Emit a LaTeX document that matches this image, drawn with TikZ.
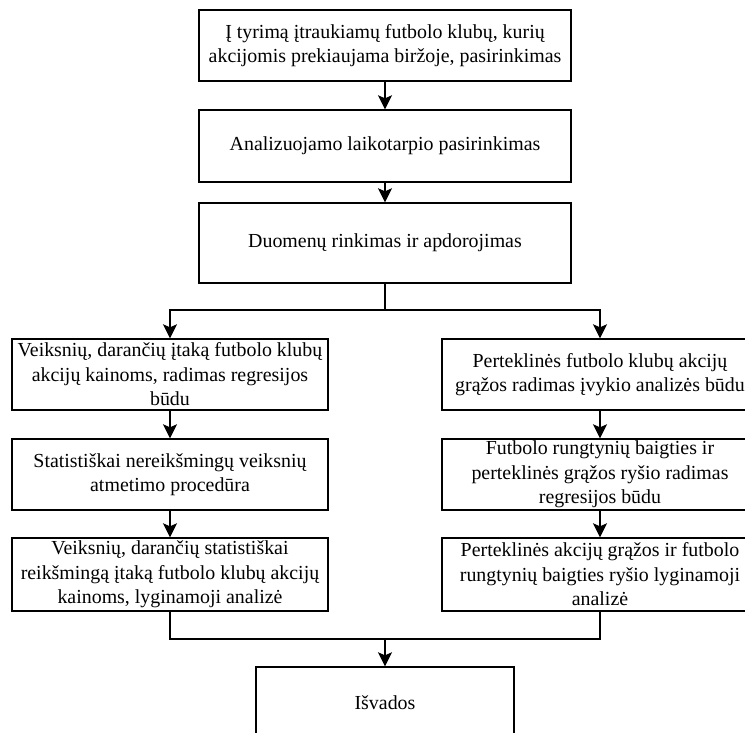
\documentclass[tikz,border=0pt]{standalone}
\usepackage{fontspec}
\setmainfont{Liberation Serif}
\usepackage{xcolor}
\usepackage{tikz}
\usetikzlibrary{arrows.meta,positioning}
\definecolor{ink}{HTML}{000000}
\tikzset{
  blk/.style={draw=ink, line width=1.4pt, fill=white, inner sep=1pt,
              align=center, font=\fontsize{19.9}{24.5}\selectfont},
  topb/.style={blk, minimum width=372pt, minimum height=71pt},
  sideb/.style={blk, minimum width=316pt, minimum height=72pt},
  ln/.style={line width=1.4pt, draw=ink},
  ar/.style={ln, -{Stealth[length=14pt,width=14pt,inset=3pt]}},
}

\begin{document}
\begin{tikzpicture}[x=1pt, y=-1pt]
  \useasboundingbox (0,0) rectangle (745,733);
  \clip (0,0) rectangle (745,733);

  % bendra dalis
  \node[topb] (sel) at (385,45.5)
       {Į tyrimą įtraukiamų futbolo klubų, kurių\\
        akcijomis prekiaujama biržoje, pasirinkimas};
  \node[topb, minimum height=72pt] (per) at (385,146)
       {Analizuojamo laikotarpio pasirinkimas};
  \node[topb, minimum height=80pt] (dat) at (385,243)
       {Duomenų rinkimas ir apdorojimas};

  % kairioji šaka
  \node[sideb, minimum height=71pt] (l1) at (170,374.5)
       {Veiksnių, darančių įtaką futbolo klubų\\
        akcijų kainoms, radimas regresijos\\būdu};
  \node[sideb, minimum height=71pt] (l2) at (170,474.5)
       {Statistiškai nereikšmingų veiksnių\\atmetimo procedūra};
  \node[sideb, minimum height=73pt] (l3) at (170,574.5)
       {Veiksnių, darančių statistiškai\\
        reikšmingą įtaką futbolo klubų akcijų\\
        kainoms, lyginamoji analizė};

  % dešinioji šaka
  \node[sideb, minimum height=71pt] (r1) at (600,374.5)
       {Perteklinės futbolo klubų akcijų\\
        grąžos radimas įvykio analizės būdu};
  \node[sideb, minimum height=71pt] (r2) at (600,474.5)
       {Futbolo rungtynių baigties ir\\
        perteklinės grąžos ryšio radimas\\regresijos būdu};
  \node[sideb, minimum height=73pt] (r3) at (600,574.5)
       {Perteklinės akcijų grąžos ir futbolo\\
        rungtynių baigties ryšio lyginamoji\\analizė};

  % išvados
  \node[blk, minimum width=258pt, minimum height=72pt] (out) at (385,703)
       {Išvados};

  % jungtys
  \coordinate (split) at (385,310);
  \coordinate (merge) at (385,639);
  \draw[ar] (sel) -- (per);
  \draw[ar] (per) -- (dat);
  \draw[ln] (dat.south) -- (split);
  \draw[ar] (split) -| (l1.north);
  \draw[ar] (split) -| (r1.north);
  \draw[ar] (l1) -- (l2);
  \draw[ar] (l2) -- (l3);
  \draw[ar] (r1) -- (r2);
  \draw[ar] (r2) -- (r3);
  \draw[ln] (l3.south) |- (merge);
  \draw[ln] (r3.south) |- (merge);
  \draw[ar] (merge) -- (out.north);
\end{tikzpicture}
\end{document}
